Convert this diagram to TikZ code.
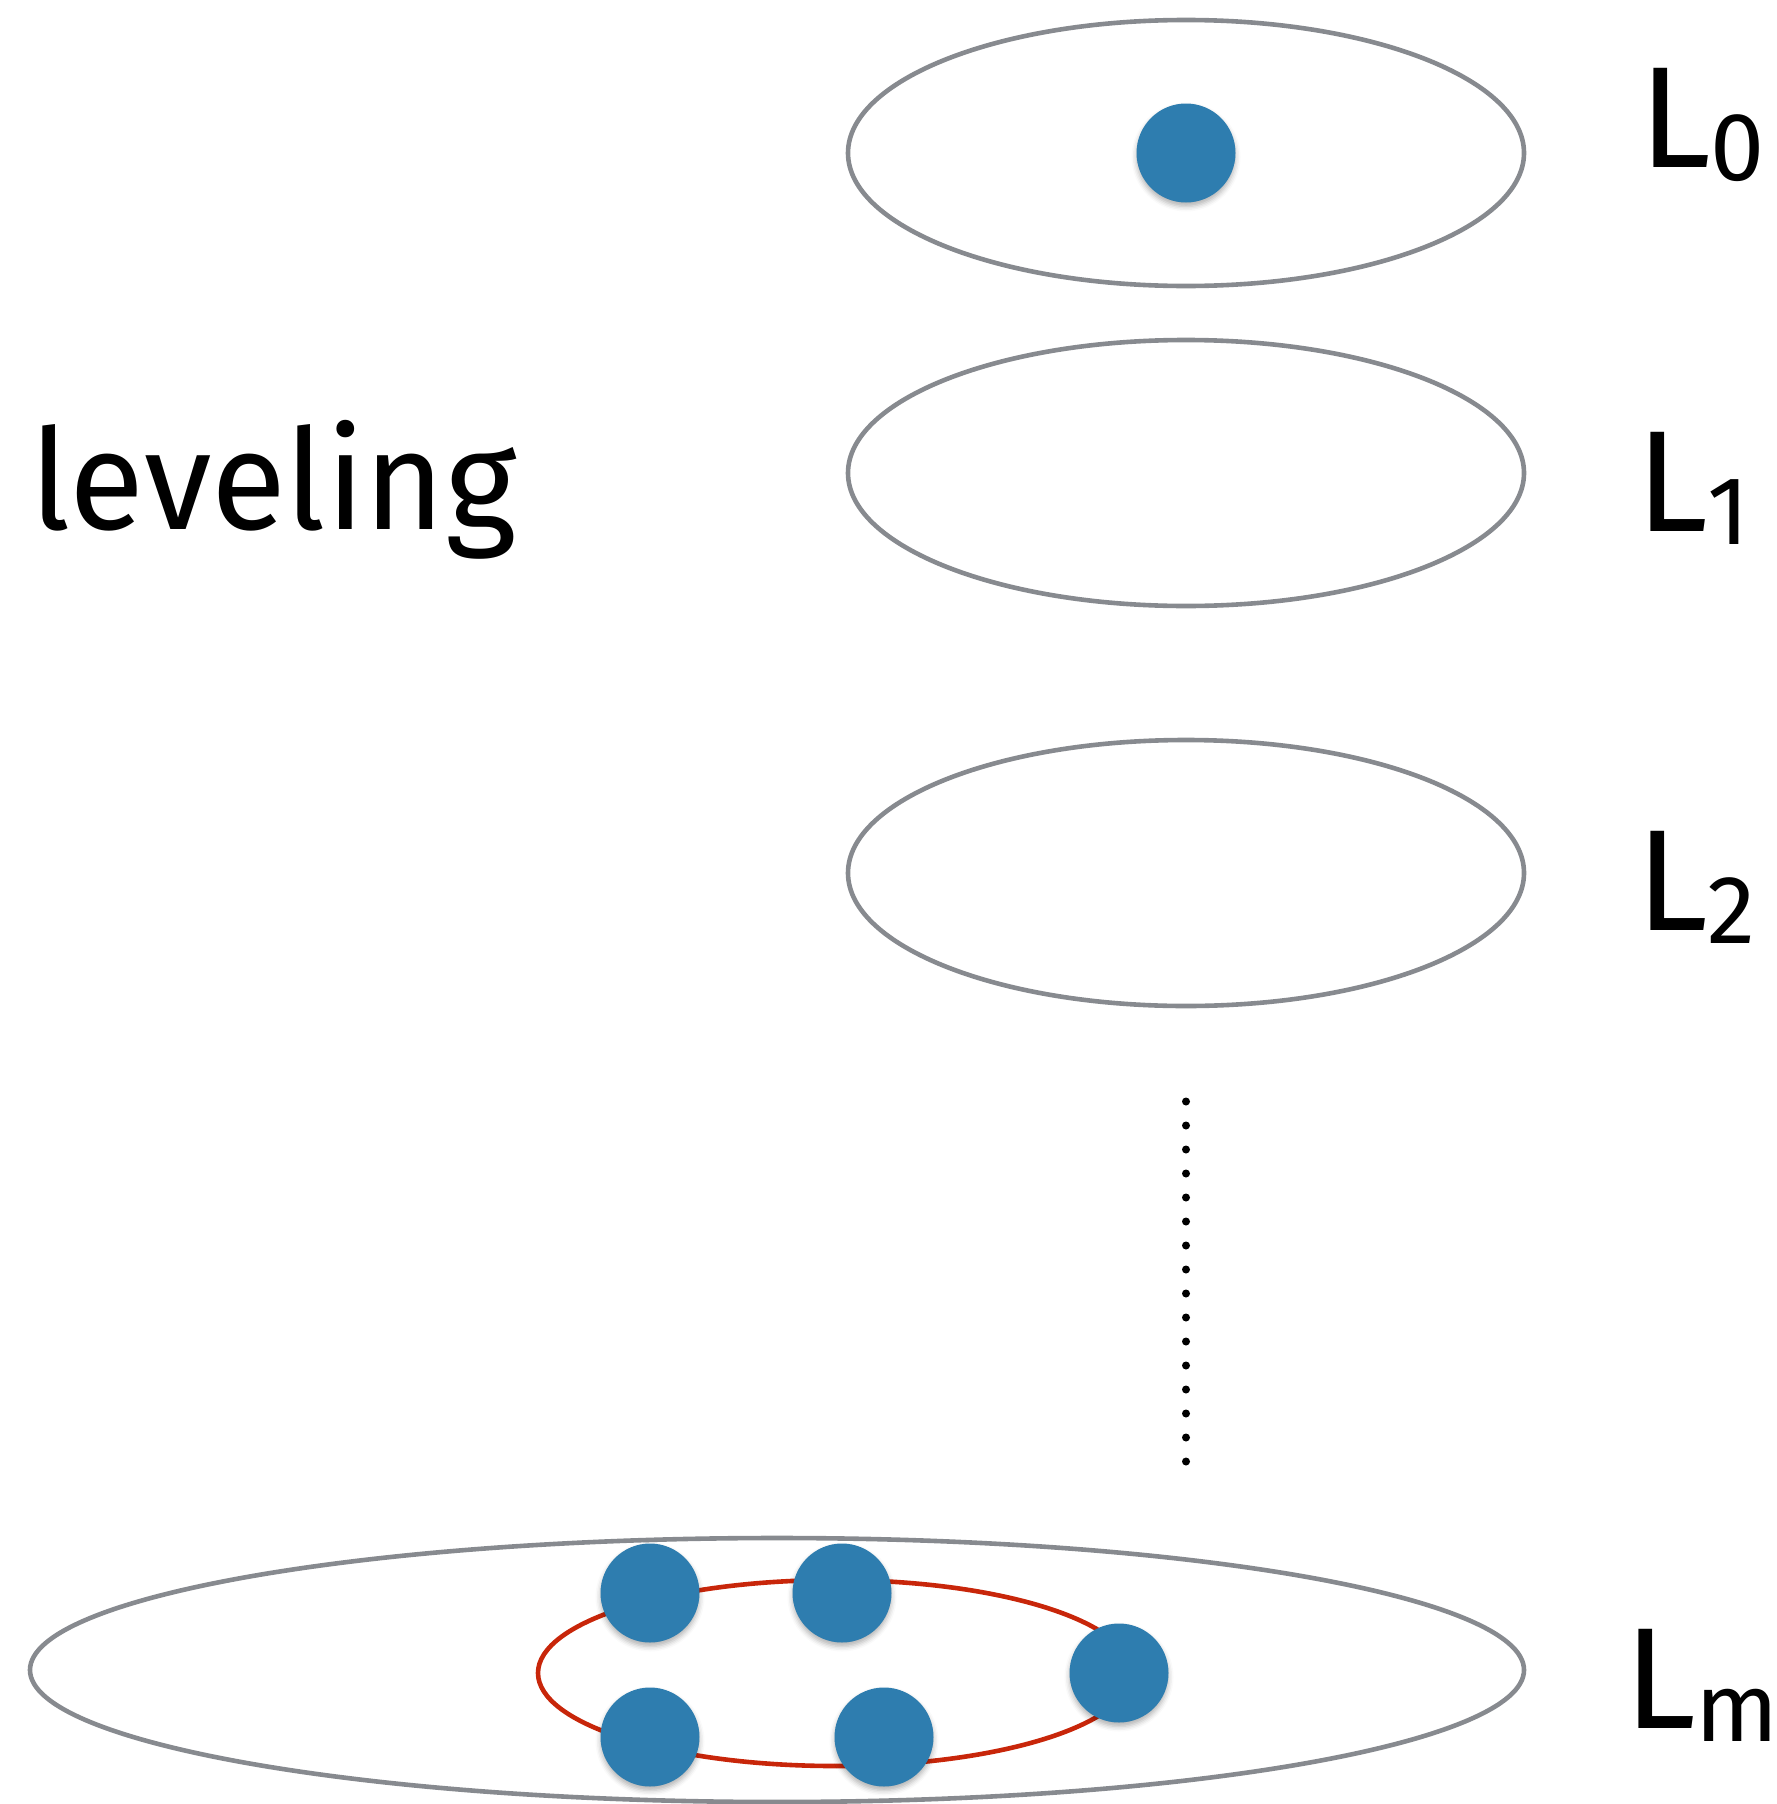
\documentclass[tikz,border=0pt]{standalone}
\usepackage{fontspec}
\setmainfont{Fira Sans}
\usetikzlibrary{shapes.geometric,shadows.blur}
\definecolor{ringgray}{HTML}{878A8F}
\definecolor{ringred}{HTML}{C8260A}
\definecolor{nodeblue}{HTML}{2E7DAF}
\newcommand\lvsub[1]{\raisebox{-13pt}{\fontsize{97}{97}\selectfont #1}}
\tikzset{
  levelring/.style={ellipse, draw=ringgray, line width=4.6pt, inner sep=0pt},
  cyclering/.style={draw=ringred, line width=4.6pt},
  blobnode/.style={circle, fill=nodeblue, minimum size=99pt, inner sep=0pt,
    blur shadow={shadow xshift=0pt, shadow yshift=-4pt, shadow blur radius=5pt, shadow opacity=30}},
  levellabel/.style={anchor=base west, inner sep=0pt, font=\fontsize{144}{144}\selectfont},
  dotline/.style={line width=8pt, line cap=round, dash pattern=on 0pt off 24pt}
}
\begin{document}
\begin{tikzpicture}[x=1pt,y=-1pt]
\useasboundingbox (0,0) rectangle (1777,1804);

% level sets
\node[levelring, minimum width=676pt, minimum height=266pt] (lev0) at (1186,153) {};
\node[levelring, minimum width=676pt, minimum height=266pt] (lev1) at (1186,473) {};
\node[levelring, minimum width=676pt, minimum height=266pt] (lev2) at (1186,873) {};
\node[levelring, minimum width=1494pt, minimum height=264pt] (levm) at (777,1670) {};

% cycle on the bottom level
\node[ellipse, cyclering, minimum width=594pt, minimum height=186pt, inner sep=0pt] (cyc) at (835,1673) {};

% vertices
\node[blobnode] (v0) at (1186,153) {};
\node[blobnode] (a) at (650,1593) {};
\node[blobnode] (b) at (842,1593) {};
\node[blobnode] (c) at (1119,1673) {};
\node[blobnode] (d) at (884,1737) {};
\node[blobnode] (e) at (650,1737) {};

% vertical ellipsis between the levels
\coordinate (dtop) at (1186,1101.5);
\coordinate (dbot) at (1186,1462);
\draw[dotline] (dtop) -- (dbot);

% labels
\node[levellabel] (t0) at (1639,167) {L\lvsub{0}};
\node[levellabel] (t1) at (1636,531) {L\lvsub{1}};
\node[levellabel] (t2) at (1636,930) {L\lvsub{2}};
\node[levellabel] (tm) at (1624,1728) {L\lvsub{m}};
\node[anchor=base west, inner sep=0pt, font=\fontsize{140}{140}\selectfont, xscale=0.98] (title) at (30,529) {leveling};
\end{tikzpicture}
\end{document}
